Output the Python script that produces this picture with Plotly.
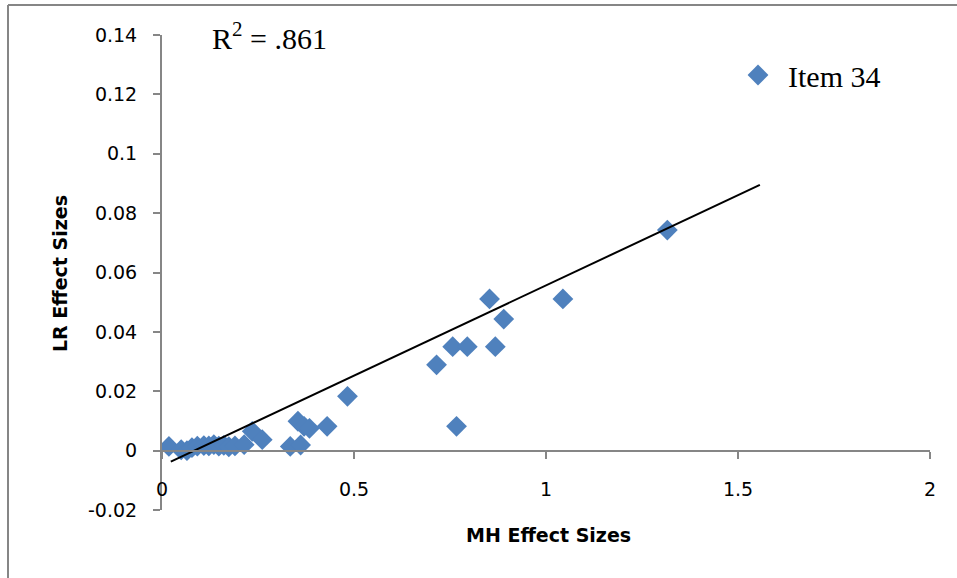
import plotly.graph_objects as go

# MH effect sizes (x) and LR effect sizes (y) for Item 34
mh_effect = [0.018, 0.050, 0.065, 0.078, 0.092, 0.109, 0.122, 0.135, 0.148, 0.161,
             0.174, 0.190, 0.214, 0.235, 0.261, 0.334, 0.361, 0.354, 0.370, 0.384,
             0.430, 0.483, 0.715, 0.757, 0.795, 0.767, 0.853, 0.890, 0.868, 1.044, 1.316]
lr_effect = [0.0014, 0.0003, 0.0000, 0.0010, 0.0015, 0.0017, 0.0016, 0.0020, 0.0015, 0.0018,
             0.0013, 0.0016, 0.0020, 0.0065, 0.0037, 0.0014, 0.0019, 0.0099, 0.0082, 0.0075,
             0.0082, 0.0183, 0.0289, 0.0350, 0.0350, 0.0082, 0.0511, 0.0443, 0.0350, 0.0511, 0.0743]

# Linear trend line endpoints
trend_x = [0.023, 1.557]
trend_y = [-0.0037, 0.0895]

y_ticks = [-0.02, 0, 0.02, 0.04, 0.06, 0.08, 0.1, 0.12, 0.14]
y_ticktext = ["-0.02", "0", "0.02", "0.04", "0.06", "0.08", "0.1", "0.12", "0.14"]
x_ticks = [0, 0.5, 1, 1.5, 2]
x_ticktext = ["0", "0.5", "1", "1.5", "2"]

r2_text = "R<sup>2</sup> = .861"
x_title = "<b>MH Effect Sizes</b>"
y_title = "<b>LR Effect Sizes</b>"

axis_grey = "#868686"
sans = "DejaVu Sans, Lato, sans-serif"
serif = "Liberation Serif, Times New Roman, serif"
tick_font = dict(family=sans, size=19, color="#000000")
title_font = dict(family=sans, size=19, color="#000000")

fig = go.Figure()
fig.add_trace(go.Scatter(
    x=mh_effect, y=lr_effect, mode="markers", name="Item 34",
    marker=dict(symbol="diamond", size=16, color="#4F81BD", line=dict(width=0)),
))
fig.add_trace(go.Scatter(
    x=trend_x, y=trend_y, mode="lines", showlegend=False,
    line=dict(color="#000000", width=2), hoverinfo="skip",
))

L, R, T, B = 162, 27, 35, 68
W, H = 957, 578
pw, ph = W - L - R, H - T - B


def px_to_paper_x(px):
    return (px - L) / pw


def px_to_paper_y(py):
    return (H - B - py) / ph


fig.update_layout(
    width=W, height=H,
    margin=dict(l=L, r=R, t=T, b=B),
    paper_bgcolor="white", plot_bgcolor="white",
    showlegend=True,
    legend=dict(x=px_to_paper_x(728), y=px_to_paper_y(49), xanchor="left", yanchor="top",
                itemwidth=50,
                font=dict(family=serif, size=30, color="#000000"),
                bgcolor="rgba(0,0,0,0)"),
    xaxis=dict(range=[0, 2], tickvals=x_ticks, ticktext=x_ticktext,
               showgrid=False, zeroline=False, showline=True, linecolor=axis_grey, linewidth=2,
               ticks="outside", ticklen=7, tickcolor=axis_grey, tickwidth=2,
               tickfont=tick_font, anchor="free", position=0.125,
               ticklabelstandoff=15, automargin=False),
    yaxis=dict(range=[-0.02, 0.14], tickvals=y_ticks, ticktext=y_ticktext,
               showgrid=False, zeroline=False, showline=True, linecolor=axis_grey, linewidth=2,
               ticks="outside", ticklen=7, tickcolor=axis_grey, tickwidth=2,
               tickfont=tick_font, ticklabelstandoff=12, automargin=False),
    annotations=[
        dict(text=r2_text, xref="paper", yref="paper", x=px_to_paper_x(210), y=px_to_paper_y(36),
             xanchor="left", yanchor="middle", showarrow=False,
             font=dict(family=serif, size=30, color="#000000")),
        dict(text=x_title, xref="paper", yref="paper", x=px_to_paper_x(548), y=px_to_paper_y(535),
             xanchor="center", yanchor="middle", showarrow=False, font=title_font),
        dict(text=y_title, xref="paper", yref="paper", x=px_to_paper_x(60), y=px_to_paper_y(274),
             xanchor="center", yanchor="middle", showarrow=False, textangle=-90, font=title_font),
    ],
    shapes=[
        dict(type="line", xref="paper", yref="paper",
             x0=px_to_paper_x(8), x1=px_to_paper_x(1000), y0=px_to_paper_y(5), y1=px_to_paper_y(5),
             line=dict(color=axis_grey, width=2), layer="below"),
        dict(type="line", xref="paper", yref="paper",
             x0=px_to_paper_x(8), x1=px_to_paper_x(8), y0=px_to_paper_y(5), y1=px_to_paper_y(620),
             line=dict(color=axis_grey, width=2), layer="below"),
    ],
)

fig.write_html("out.html",
               config={"displayModeBar": False},
               post_script="document.body.style.margin='0';document.body.style.overflow='hidden';")
